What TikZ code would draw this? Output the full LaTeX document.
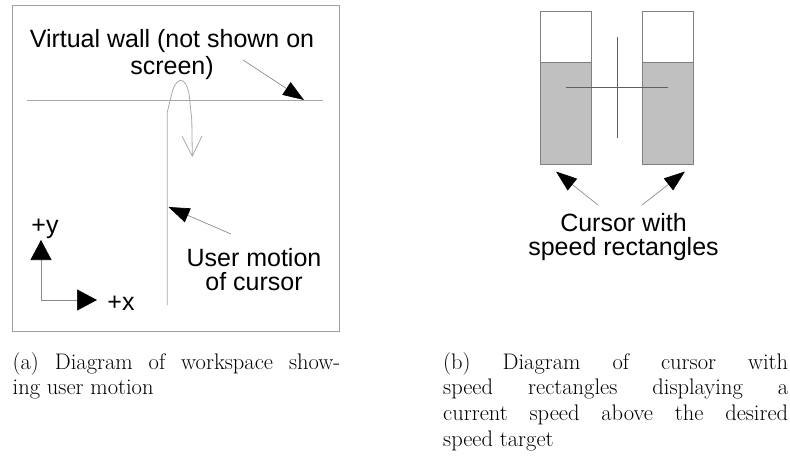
\documentclass[tikz,border=0pt]{standalone}
\usepackage{fontspec}
\newfontfamily\diagfont{Liberation Sans}
\usetikzlibrary{arrows.meta}
\definecolor{frame}{HTML}{A0A0A0}
\definecolor{trace}{HTML}{A8A8A8}
\definecolor{shaft}{HTML}{8C8C8C}
\definecolor{barfill}{HTML}{C0C0C0}
\definecolor{baredge}{HTML}{808080}
\definecolor{crosshair}{HTML}{606060}
\newcommand{\labelfont}{\diagfont\fontsize{25}{24}\selectfont}
\newcommand{\capfont}{\fontsize{22.5}{25.7}\selectfont}
\tikzset{
  pointer/.style={shaft,line width=0.7pt,-{Triangle[length=21pt,width=15pt,color=black]}},
  axisarrow/.style={shaft,line width=0.7pt,-{Triangle[length=20pt,width=21pt,color=black]}},
  callout/.style={font=\labelfont,align=center,inner sep=0pt,anchor=base},
  subcaption/.style={font=\capfont,align=justify,inner sep=0pt,anchor=base west},
}

\begin{document}
\begin{tikzpicture}[x=1pt,y=-1pt]
\useasboundingbox (0,0) rectangle (790,466);
% (a) workspace with the virtual wall
\draw[frame,line width=1pt] (12.5,5.7) rectangle (339.5,331.5);
\coordinate (wallL) at (26.7,100);
\coordinate (wallR) at (322.7,100);
\draw[trace,line width=1pt] (wallL) -- (wallR);
\node[callout] (wallLbl) at (172,74) {Virtual wall (not shown on\\[3pt]screen)};
\coordinate (wallFrom) at (243,60);
\coordinate (wallTip) at (304,100);
\draw[pointer] (wallFrom) -- (wallTip);
% cursor trace, bounces back off the wall
\coordinate (traceStart) at (167.3,305);
\coordinate (traceEnd) at (192.3,157);
\draw[trace,line width=0.8pt,-{Straight Barb[length=20pt,width=20pt]}]
  (traceStart) -- (167.3,112) -- (171,97)
  .. controls (175,76) and (186,74) .. (189.3,96) -- (191.8,120) -- (traceEnd);
\node[callout] (userLbl) at (254,290) {User motion\\of cursor};
\coordinate (userFrom) at (231,234);
\coordinate (userTip) at (168.5,207);
\draw[pointer] (userFrom) -- (userTip);
% axes
\coordinate (origin) at (41,300);
\coordinate (yTip) at (41,240);
\coordinate (xTip) at (97,300);
\draw[axisarrow] (origin) -- (yTip);
\draw[axisarrow] (origin) -- (xTip);
\node[callout] (yLbl) at (45,233) {+y};
\node[callout] (xLbl) at (121,310) {+x};
% (b) cursor with speed rectangles
\fill[barfill] (540,62.3) rectangle (591.7,164.3);
\fill[barfill] (642.3,62.3) rectangle (693.7,164.3);
\draw[baredge,line width=1pt] (540,11) rectangle (591.7,164.3) (540,62.3) -- (591.7,62.3);
\draw[baredge,line width=1pt] (642.3,11) rectangle (693.7,164.3) (642.3,62.3) -- (693.7,62.3);
\draw[crosshair,line width=0.7pt] (617.3,36.7) -- (617.3,138.3) (565.7,87.3) -- (667.7,87.3);
\node[callout] (barLbl) at (623.5,255) {Cursor with\\speed rectangles};
\coordinate (leftFrom) at (598,205);
\coordinate (leftTip) at (556,171.5);
\coordinate (rightFrom) at (642,205);
\coordinate (rightTip) at (685,171.5);
\draw[pointer] (leftFrom) -- (leftTip);
\draw[pointer] (rightFrom) -- (rightTip);
% captions
\node[subcaption,text width=327.5pt] (capA) at (12.5,369)
  {(a) Diagram of workspace show-\linebreak ing user motion};
\node[subcaption,text width=345pt] (capB) at (443,369)
  {(b) Diagram of cursor with\linebreak speed rectangles displaying a\linebreak current speed above the desired\linebreak speed target};
\end{tikzpicture}
\end{document}
